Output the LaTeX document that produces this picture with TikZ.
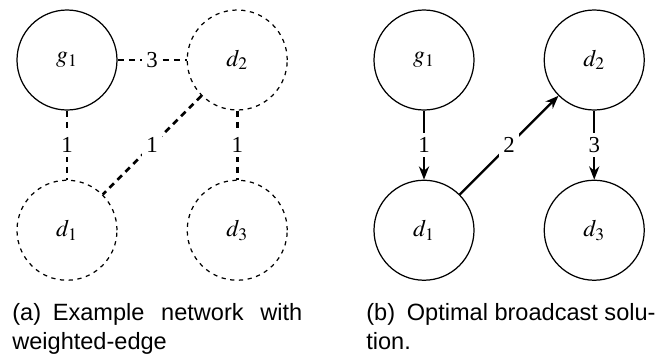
\documentclass[tikz,border=0pt]{standalone}
\usepackage{mathptmx}
\usepackage{fontspec}
\setmainfont{Liberation Serif}
\newfontfamily\capfont{Liberation Sans}
\usetikzlibrary{arrows.meta,positioning}

\begin{document}
\begin{tikzpicture}[every node/.style={inner sep=0pt},
    vert/.style={circle, draw, minimum size=2cm, line width=0.7pt,
        font=\fontsize{13.5}{16}\selectfont},
    dvert/.style={vert, dash pattern=on 2.4pt off 2.6pt},
    wedge/.style={dash pattern=on 3.6pt off 2.8pt, line width=1.5pt},
    sedge/.style={-{Stealth[length=7.5pt,width=5.8pt]}, line width=1.4pt},
    wt/.style={fill=white, inner sep=2.5pt, font=\fontsize{13}{15}\selectfont},
    captext/.style={anchor=north west, align=left, font=\capfont\fontsize{13.4}{16.4}\selectfont}]

    \useasboundingbox (0,0) rectangle (13.2,-7.12);

    % (a) network with weighted edges
    \node[vert] (ga) at (1.34,-1.2) {$g_1$};
    \node[dvert, right=1.38cm of ga] (d2a) {$d_2$};
    \node[dvert, below=1.38cm of ga] (d1a) {$d_1$};
    \node[dvert, below=1.38cm of d2a] (d3a) {$d_3$};

    \draw[wedge] (ga) -- (d2a) node[midway, wt] {3};
    \draw[wedge] (ga) -- (d1a) node[midway, wt] {1};
    \draw[wedge] (d2a) -- (d1a) node[midway, wt] {1};
    \draw[wedge] (d2a) -- (d3a) node[midway, wt] {1};

    % (b) broadcast solution
    \node[vert] (gb) at (8.48,-1.2) {$g_1$};
    \node[vert, right=1.38cm of gb] (d2b) {$d_2$};
    \node[vert, below=1.38cm of gb] (d1b) {$d_1$};
    \node[vert, below=1.38cm of d2b] (d3b) {$d_3$};

    \draw[sedge] (gb) -- (d1b) node[midway, wt] {1};
    \draw[sedge] (d1b) -- (d2b) node[midway, wt] {2};
    \draw[sedge] (d2b) -- (d3b) node[midway, wt] {3};

    % captions
    \node[captext] (capa) at (0.24,-6.06)
        {\makebox[5.8cm][s]{(a)\enspace Example network with}\\weighted-edge};
    \node[captext] (capb) at (7.32,-6.06)
        {(b)\enspace Optimal broadcast solu-\\tion.};

\end{tikzpicture}
\end{document}
